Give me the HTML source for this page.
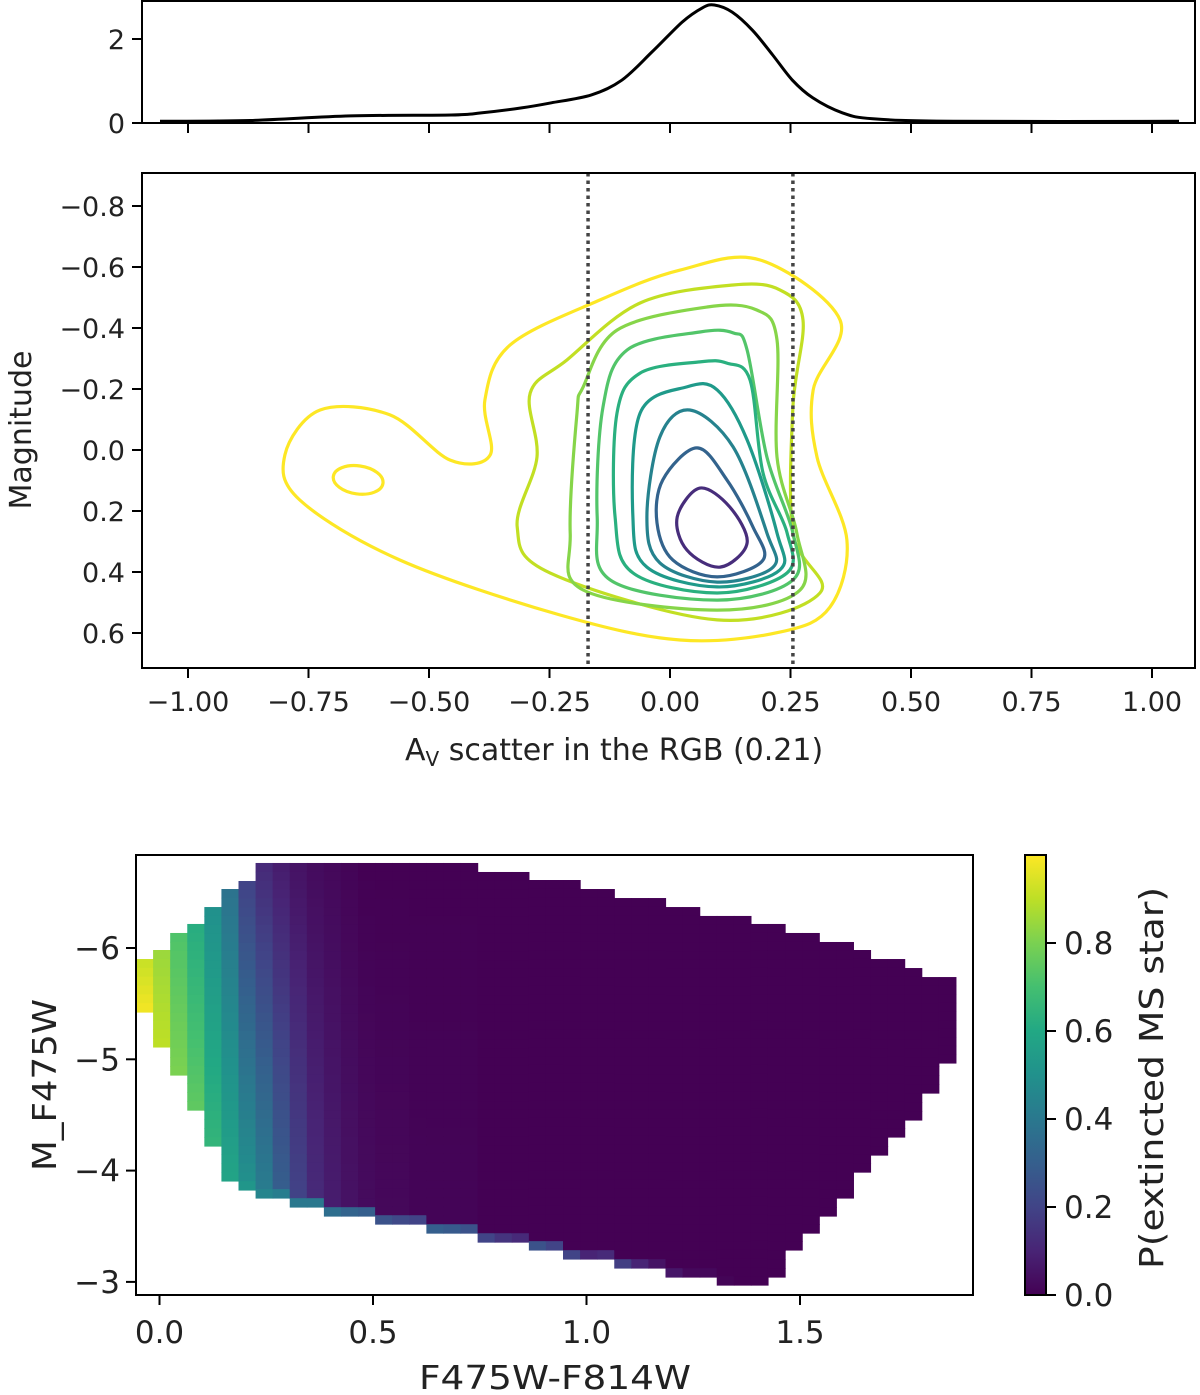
<!DOCTYPE html>
<html><head><meta charset="utf-8">
<style>
html,body{margin:0;padding:0;background:#fff;}
svg{display:block;font-family:"DejaVu Sans","Liberation Sans",sans-serif;}
</style></head>
<body>
<svg id="fig" width="1200" height="1395" viewBox="0 0 1200 1395" xmlns="http://www.w3.org/2000/svg">
<defs>
<linearGradient id="vir" x1="0" y1="1" x2="0" y2="0">
<stop offset="0" stop-color="#440154"/><stop offset="0.1" stop-color="#482475"/><stop offset="0.2" stop-color="#414487"/><stop offset="0.3" stop-color="#355f8d"/><stop offset="0.4" stop-color="#2a788e"/><stop offset="0.5" stop-color="#21918c"/><stop offset="0.6" stop-color="#22a884"/><stop offset="0.7" stop-color="#44bf70"/><stop offset="0.8" stop-color="#7ad151"/><stop offset="0.9" stop-color="#bddf26"/><stop offset="1" stop-color="#fde725"/>
</linearGradient>
<clipPath id="clipTop"><rect x="142" y="1" width="1053" height="122"/></clipPath>
<clipPath id="clipMain"><rect x="142" y="173" width="1053" height="495"/></clipPath>
</defs>
<g id="top-panel"></g>
<g id="main-panel"></g>
<g id="heat-panel"></g>
<g id="cbar-panel"></g>
</svg>
<script>
// ---------- KDE (top) data ----------
const kdeX = [-1.058,-0.871,-0.663,-0.454,-0.392,-0.308,-0.246,-0.163,-0.1,-0.0375,0.025,0.067,0.092,0.129,0.171,0.213,0.254,0.296,0.358,0.421,0.588,1.056];
const kdeY = [0.04,0.06,0.17,0.19,0.24,0.36,0.48,0.67,1.02,1.69,2.40,2.74,2.81,2.64,2.21,1.62,1.02,0.60,0.24,0.10,0.04,0.04];
const kdeYTicks = [0,2];
const sharedXTicks = [-1.0,-0.75,-0.5,-0.25,0,0.25,0.5,0.75,1.0];
const sharedXTickLabels = ["\u22121.00","\u22120.75","\u22120.50","\u22120.25","0.00","0.25","0.50","0.75","1.00"];
// ---------- contour data (x = A_V scatter, y = magnitude) ----------
const c1x = [0.187,0.353,0.297,0.305,0.367,0.332,0.228,0.021,-0.228,-0.560,-0.768,-0.799,-0.726,-0.581,-0.456,-0.373,-0.384,-0.332,-0.145,0.021];
const c1y = [-0.623,-0.426,-0.197,0.023,0.295,0.515,0.597,0.623,0.541,0.361,0.164,0.016,-0.131,-0.115,0.033,0.016,-0.164,-0.344,-0.492,-0.590];
const c2x = [0.131,0.228,0.276,0.255,0.255,0.311,0.098,-0.249,-0.317,-0.276,-0.290,-0.214,-0.062];
const c2y = [-0.541,-0.525,-0.426,-0.141,0.272,0.469,0.557,0.403,0.252,0.023,-0.187,-0.295,-0.482];
const c3x = [0.077,0.180,0.222,0.222,0.263,0.270,0.098,-0.180,-0.207,-0.193,-0.180,-0.110];
const c3y = [-0.469,-0.459,-0.361,0.023,0.272,0.459,0.525,0.459,0.272,-0.121,-0.207,-0.393];
const c4x = [0.062,0.131,0.160,0.201,0.255,0.255,0.098,-0.124,-0.151,-0.139,-0.089];
const c4y = [-0.387,-0.384,-0.328,0.023,0.272,0.426,0.492,0.426,0.220,-0.141,-0.328];
const c5x = [0.062,0.118,0.166,0.193,0.243,0.243,0.098,-0.077,-0.114,-0.110,-0.062];
const c5y = [-0.289,-0.285,-0.230,0.075,0.272,0.403,0.469,0.403,0.220,-0.121,-0.252];
const c6x = [0.035,0.098,0.160,0.222,0.228,0.098,-0.048,-0.077,-0.062];
const c6y = [-0.207,-0.197,-0.033,0.272,0.393,0.449,0.384,0.220,-0.121];
const c7x = [0.041,0.131,0.201,0.214,0.098,-0.021,-0.048,-0.021];
const c7y = [-0.131,-0.010,0.272,0.384,0.433,0.370,0.220,-0.043];
const c8x = [0.056,0.118,0.172,0.193,0.098,0.006,-0.027,-0.015];
const c8y = [-0.007,0.098,0.252,0.361,0.416,0.361,0.239,0.098];
const c9x = [0.062,0.124,0.160,0.104,0.035,0.015];
const c9y = [0.125,0.187,0.305,0.384,0.328,0.220];
const blobCenter = [-0.647,0.098];
const blobRadius = [0.052,0.046];
const vLines = [-0.17,0.255];
const magTicks = [-0.8,-0.6,-0.4,-0.2,0.0,0.2,0.4,0.6];
const magTickLabels = ["\u22120.8","\u22120.6","\u22120.4","\u22120.2","0.0","0.2","0.4","0.6"];
// ---------- heatmap data ----------
const colorStart = -0.055;
const colorBin = 0.04;
const magBin = 0.0795;
const colTop = [-5.901,-5.982,-6.135,-6.216,-6.368,-6.530,-6.602,-6.764,-6.764,-6.764,-6.764,-6.764,-6.764,-6.764,-6.764,-6.764,-6.764,-6.764,-6.764,-6.764,-6.683,-6.683,-6.683,-6.611,-6.611,-6.611,-6.530,-6.530,-6.449,-6.449,-6.449,-6.368,-6.368,-6.288,-6.288,-6.288,-6.216,-6.216,-6.135,-6.135,-6.054,-6.054,-5.982,-5.901,-5.901,-5.820,-5.739,-5.739];
const colBot = [-5.425,-5.111,-4.859,-4.544,-4.221,-3.907,-3.826,-3.754,-3.754,-3.673,-3.673,-3.592,-3.592,-3.592,-3.520,-3.520,-3.520,-3.439,-3.439,-3.439,-3.358,-3.358,-3.358,-3.287,-3.287,-3.206,-3.206,-3.206,-3.125,-3.125,-3.125,-3.044,-3.044,-3.044,-2.972,-2.972,-2.972,-3.044,-3.287,-3.439,-3.592,-3.754,-3.987,-4.140,-4.302,-4.455,-4.697,-4.967];
const probTop = [0.92,0.85,0.72,0.62,0.50,0.38,0.20,0.12,0.08,0.05,0.03,0.02,0.01,0,0,0,0,0,0,0,0,0,0,0,0,0,0,0,0,0,0,0,0,0,0,0,0,0,0,0,0,0,0,0,0,0,0,0];
const probBot = [0.98,0.90,0.80,0.75,0.65,0.58,0.50,0.42,0.30,0.20,0.12,0.08,0.05,0.03,0.02,0.02,0.01,0.01,0.01,0.01,0,0,0,0,0,0,0,0,0,0,0,0,0,0,0,0,0,0,0,0,0,0,0,0,0,0,0,0];
const probEdge = [0.98,0.90,0.80,0.75,0.65,0.58,0.52,0.45,0.42,0.40,0.40,0.36,0.32,0.30,0.25,0.22,0.20,0.30,0.28,0.25,0.20,0.15,0.12,0.25,0.20,0.20,0.10,0.12,0.18,0.10,0.05,0.06,0.02,0.02,0.01,0,0,0,0,0,0,0,0,0,0,0,0,0];
const hxTicks = [0.0,0.5,1.0,1.5];
const hxTickLabels = ["0.0","0.5","1.0","1.5"];
const hyTicks = [-6,-5,-4,-3];
const hyTickLabels = ["\u22126","\u22125","\u22124","\u22123"];
const cbTicks = [0.0,0.2,0.4,0.6,0.8];
const cbTickLabels = ["0.0","0.2","0.4","0.6","0.8"];

const NS = "http://www.w3.org/2000/svg";
function mk(tag, attrs, parent){
  const e = document.createElementNS(NS, tag);
  for (const k in attrs) e.setAttribute(k, attrs[k]);
  parent.appendChild(e);
  return e;
}
const VIR = ["#440154","#482475","#414487","#355f8d","#2a788e","#21918c","#22a884","#44bf70","#7ad151","#bddf26","#fde725"];
function hex(h){return [parseInt(h.substr(1,2),16),parseInt(h.substr(3,2),16),parseInt(h.substr(5,2),16)];}
function viridis(t){
  t = Math.max(0, Math.min(1, t));
  const f = t*10, i = Math.min(9, Math.floor(f)), r = f - i;
  const a = hex(VIR[i]), b = hex(VIR[i+1]);
  return "rgb(" + a.map((v,k)=>Math.round(v+(b[k]-v)*r)).join(",") + ")";
}
function closedCurve(pts){
  const n = pts.length; let d = "M" + pts[0][0].toFixed(1) + "," + pts[0][1].toFixed(1);
  for (let i=0;i<n;i++){
    const p0=pts[(i-1+n)%n], p1=pts[i], p2=pts[(i+1)%n], p3=pts[(i+2)%n];
    const c1=[p1[0]+(p2[0]-p0[0])/6, p1[1]+(p2[1]-p0[1])/6];
    const c2=[p2[0]-(p3[0]-p1[0])/6, p2[1]-(p3[1]-p1[1])/6];
    d += "C"+c1[0].toFixed(1)+","+c1[1].toFixed(1)+" "+c2[0].toFixed(1)+","+c2[1].toFixed(1)+" "+p2[0].toFixed(1)+","+p2[1].toFixed(1);
  }
  return d + "Z";
}
function openCurve(pts){
  const n = pts.length; let d = "M" + pts[0][0].toFixed(1) + "," + pts[0][1].toFixed(1);
  for (let i=0;i<n-1;i++){
    const p0=pts[Math.max(0,i-1)], p1=pts[i], p2=pts[i+1], p3=pts[Math.min(n-1,i+2)];
    const c1=[p1[0]+(p2[0]-p0[0])/6, p1[1]+(p2[1]-p0[1])/6];
    const c2=[p2[0]-(p3[0]-p1[0])/6, p2[1]-(p3[1]-p1[1])/6];
    d += "C"+c1[0].toFixed(1)+","+c1[1].toFixed(1)+" "+c2[0].toFixed(1)+","+c2[1].toFixed(1)+" "+p2[0].toFixed(1)+","+p2[1].toFixed(1);
  }
  return d;
}
// ---------- axis functions ----------
const sx = v => 670 + 482*v;          // shared x (top + main)
const kdeYs = v => 123 - 42*v;
const magY = v => 450 + 305*v;
const hx = v => 159.5 + 427*v;
const hy = v => 948 + 111.3*(v + 6);
const cbY = v => 1295 - 440*v;

// ---------- TOP PANEL ----------
const gt = document.getElementById("top-panel");
const kdePath = mk("path", {d: openCurve(kdeX.map((x,i)=>[sx(x), kdeYs(kdeY[i])])), fill:"none", stroke:"#000", "stroke-width":3, "clip-path":"url(#clipTop)"}, gt);


const topFrame = mk("rect", {x:142, y:1, width:1053, height:122, fill:"none", stroke:"#000", "stroke-width":2}, gt);


sharedXTicks.forEach(v=>{
  const t = mk("line", {x1:sx(v), x2:sx(v), y1:123, y2:133, stroke:"#000", "stroke-width":2}, gt);
  
  
});
kdeYTicks.forEach(v=>{
  const t = mk("line", {x1:132, x2:142, y1:kdeYs(v), y2:kdeYs(v), stroke:"#000", "stroke-width":2}, gt);
  
  
  const l = mk("text", {x:125, y:kdeYs(v)+10, "text-anchor":"end", "font-size":27, fill:"#222"}, gt);
  l.textContent = String(v);
  
  
});

// ---------- MAIN CONTOUR PANEL ----------
const gm = document.getElementById("main-panel");
const contours = [[c1x,c1y],[c2x,c2y],[c3x,c3y],[c4x,c4y],[c5x,c5y],[c6x,c6y],[c7x,c7y],[c8x,c8y],[c9x,c9y]];
const cColors = ["#fde725","#c2df23","#86d549","#52c569","#2ab07f","#1f9a8a","#26828e","#33638d","#472d7b"];
const gc = mk("g", {"clip-path":"url(#clipMain)"}, gm);
contours.forEach((c,k)=>{
  const p = mk("path", {d: closedCurve(c[0].map((x,i)=>[sx(x), magY(c[1][i])])), fill:"none", stroke:cColors[k], "stroke-width":3.2}, gc);
  
  
});
const blob = mk("ellipse", {cx:sx(blobCenter[0]), cy:magY(blobCenter[1]), rx:sx(blobCenter[0]+blobRadius[0])-sx(blobCenter[0]), ry:magY(blobCenter[1]+blobRadius[1])-magY(blobCenter[1]), fill:"none", stroke:cColors[0], "stroke-width":3.2, transform:"rotate(8 "+sx(blobCenter[0])+" "+magY(blobCenter[1])+")"}, gc);


vLines.forEach(v=>{
  const l = mk("line", {x1:sx(v), x2:sx(v), y1:173, y2:668, stroke:"#444", "stroke-width":3.5, "stroke-dasharray":"3.5,4"}, gm);
  
  
});
const mainFrame = mk("rect", {x:142, y:173, width:1053, height:495, fill:"none", stroke:"#000", "stroke-width":2}, gm);


sharedXTicks.forEach((v,i)=>{
  const t = mk("line", {x1:sx(v), x2:sx(v), y1:668, y2:678, stroke:"#000", "stroke-width":2}, gm);
  
  
  const l = mk("text", {x:sx(v), y:711, "text-anchor":"middle", "font-size":27, fill:"#222"}, gm);
  l.textContent = sharedXTickLabels[i];
  
  
});
magTicks.forEach((v,i)=>{
  const t = mk("line", {x1:132, x2:142, y1:magY(v), y2:magY(v), stroke:"#000", "stroke-width":2}, gm);
  
  
  const l = mk("text", {x:125, y:magY(v)+10, "text-anchor":"end", "font-size":27, fill:"#222"}, gm);
  l.textContent = magTickLabels[i];
  
  
});
const xl = mk("text", {x:405, y:760, "font-size":30, fill:"#222"}, gm);


xl.innerHTML = 'A<tspan font-size="20" dy="6">V</tspan><tspan dy="-6"> scatter in the RGB (0.21)</tspan>';
const yl = mk("text", {x:0, y:0, "font-size":30, fill:"#222", "text-anchor":"middle", transform:"translate(31,430) rotate(-90)"}, gm);
yl.textContent = "Magnitude";



// ---------- HEATMAP ----------
const gh = document.getElementById("heat-panel");
colTop.forEach((top,i)=>{
  const c0 = colorStart + i*colorBin, c1 = c0 + colorBin;
  const bot = colBot[i];
  const nRows = Math.max(1, Math.round((bot-top)/magBin));
  for (let r=0;r<nRows;r++){
    const m0 = top + r*(bot-top)/nRows, m1 = top + (r+1)*(bot-top)/nRows;
    const f = nRows>1 ? r/(nRows-1) : 1;
    let p = probTop[i] + (probBot[i]-probTop[i])*f;
    if (r === nRows-1) p = probEdge[i];
    const cell = mk("rect", {x:hx(c0).toFixed(2), y:hy(m0).toFixed(2), width:(hx(c1)-hx(c0)+0.6).toFixed(2), height:(hy(m1)-hy(m0)+0.6).toFixed(2), fill:viridis(p)}, gh);
    
    
  }
});
const heatFrame = mk("rect", {x:136, y:855, width:837, height:440, fill:"none", stroke:"#000", "stroke-width":2}, gh);


hxTicks.forEach((v,i)=>{
  const t = mk("line", {x1:hx(v), x2:hx(v), y1:1295, y2:1305, stroke:"#000", "stroke-width":2}, gh);
  
  
  const l = mk("text", {x:hx(v), y:1343, "text-anchor":"middle", "font-size":31, fill:"#222"}, gh);
  l.textContent = hxTickLabels[i];
  
  
});
hyTicks.forEach((v,i)=>{
  const t = mk("line", {x1:126, x2:136, y1:hy(v), y2:hy(v), stroke:"#000", "stroke-width":2}, gh);
  
  
  const l = mk("text", {x:120, y:hy(v)+11, "text-anchor":"end", "font-size":31, fill:"#222"}, gh);
  l.textContent = hyTickLabels[i];
  
  
});
const hxl = mk("text", {x:555, y:1389, "text-anchor":"middle", "font-size":33, fill:"#222", textLength:272, lengthAdjust:"spacingAndGlyphs"}, gh);
hxl.textContent = "F475W-F814W";


const hyl = mk("text", {x:0, y:0, "text-anchor":"middle", "font-size":33, fill:"#222", textLength:172, lengthAdjust:"spacingAndGlyphs", transform:"translate(56,1085) rotate(-90)"}, gh);
hyl.textContent = "M_F475W";



// ---------- COLORBAR ----------
const gb = document.getElementById("cbar-panel");
const bar = mk("rect", {x:1025, y:cbY(1), width:21, height:cbY(0)-cbY(1), fill:"url(#vir)", stroke:"#000", "stroke-width":2}, gb);


cbTicks.forEach((v,i)=>{
  const t = mk("line", {x1:1046, x2:1056, y1:cbY(v), y2:cbY(v), stroke:"#000", "stroke-width":2}, gb);
  
  
  const l = mk("text", {x:1064, y:cbY(v)+11, "font-size":31, fill:"#222"}, gb);
  l.textContent = cbTickLabels[i];
  
  
});
const cbl = mk("text", {x:0, y:0, "text-anchor":"middle", "font-size":33, fill:"#222", textLength:382, lengthAdjust:"spacingAndGlyphs", transform:"translate(1163,1078) rotate(-90)"}, gb);
cbl.textContent = "P(extincted MS star)";


</script>
</body></html>
